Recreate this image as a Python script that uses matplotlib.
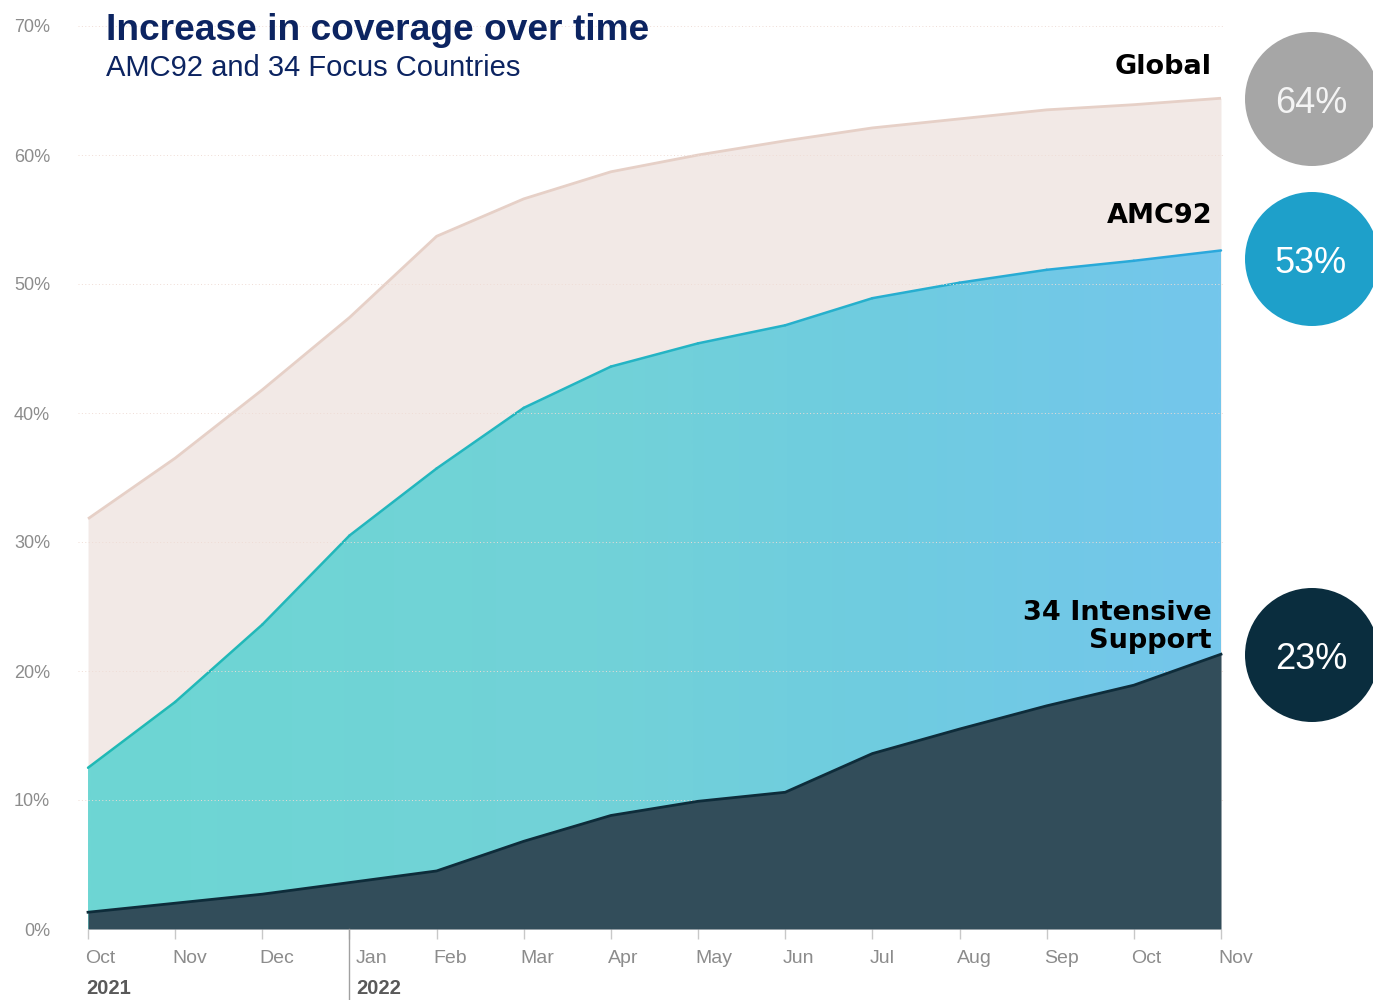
import numpy as np
import matplotlib
matplotlib.use("Agg")
import matplotlib.pyplot as plt
from matplotlib.colors import LinearSegmentedColormap
from matplotlib.collections import LineCollection
from matplotlib.patches import Circle
import matplotlib.transforms as mtransforms

# ---------------- data ----------------
months = ["Oct", "Nov", "Dec", "Jan", "Feb", "Mar", "Apr", "May", "Jun",
          "Jul", "Aug", "Sep", "Oct", "Nov"]
years = ["2021", "2022"]
year_start_idx = [0, 3]
global_cov = [31.8, 36.5, 41.8, 47.4, 53.7, 56.6, 58.7, 60.0, 61.1, 62.1, 62.8, 63.5, 63.9, 64.4]
amc92_cov = [12.5, 17.6, 23.6, 30.5, 35.7, 40.4, 43.6, 45.4, 46.8, 48.9, 50.1, 51.1, 51.8, 52.6]
intensive_cov = [1.3, 2.0, 2.7, 3.6, 4.5, 6.8, 8.8, 9.9, 10.6, 13.6, 15.5, 17.3, 18.9, 21.3]
series_names = ["Global", "AMC92", "34 Intensive\nSupport"]
end_labels = ["64%", "53%", "23%"]
y_ticks = [0, 10, 20, 30, 40, 50, 60, 70]
title = "Increase in coverage over time"
subtitle = "AMC92 and 34 Focus Countries"

# ---------------- figure ----------------
W, H = 1373, 1000
fig = plt.figure(figsize=(W / 100, H / 100), dpi=100)
ax = fig.add_axes([78 / W, 71 / H, 1147 / W, 903 / H])
x = np.arange(len(months))

navy = "#0C2461"
gray_txt = "#8C8C8C"

# Global
ax.fill_between(x, 0, global_cov, color="#F2E9E6", lw=0, zorder=1)
ax.plot(x, global_cov, color="#E6D0C7", lw=2.0, zorder=2, solid_capstyle="butt")

# AMC92 with horizontal gradient
poly = ax.fill_between(x, 0, amc92_cov, color="none", lw=0, zorder=2)
cmap = LinearSegmentedColormap.from_list(
    "g", [(0, "#6DD6D3"), (0.45, "#72D2D8"), (0.7, "#6FCCE0"), (1, "#74C6EC")])
grad = np.linspace(0, 1, 512).reshape(1, -1)
im = ax.imshow(grad, extent=[x[0], x[-1], 0, 70], aspect="auto", cmap=cmap,
               origin="lower", zorder=2, interpolation="bilinear")
im.set_clip_path(poly.get_paths()[0], transform=ax.transData)

lcmap = LinearSegmentedColormap.from_list("l", [(0, "#20B9B4"), (0.5, "#24B4C4"), (1, "#2BA7DE")])
pts = np.column_stack([x, amc92_cov]).reshape(-1, 1, 2)
segs = np.concatenate([pts[:-1], pts[1:]], axis=1)
mids = (x[:-1] + x[1:]) / 2 / x[-1]
lc = LineCollection(segs, colors=[lcmap(m) for m in mids], linewidths=1.8, zorder=3,
                    capstyle="round")
ax.add_collection(lc)

# grid lines
for yv in y_ticks[1:]:
    ax.axhline(yv, color="#EFDCD5", lw=0.7, ls=(0, (1, 2.5)), zorder=3.5)

# Intensive
ax.fill_between(x, 0, intensive_cov, color="#324D5A", lw=0, zorder=4)
ax.plot(x, intensive_cov, color="#0E2C3A", lw=2.0, zorder=5)

ax.set_xlim(-0.115, 13.046)
ax.set_ylim(0, 70)
for s in ax.spines.values():
    s.set_visible(False)

ax.set_yticks(y_ticks)
ax.set_yticklabels([f"{v}%" for v in y_ticks], fontsize=13, color=gray_txt,
                   family="Liberation Sans")
ax.tick_params(axis="y", length=0, pad=20)

ax.set_xticks(x)
ax.set_xticklabels(months, fontsize=14, color=gray_txt, family="Liberation Sans", ha="left")
ax.tick_params(axis="x", length=7.5, width=1, color="#C8C8C8", pad=7.5)
for i, lab in enumerate(ax.get_xticklabels()):
    dx = 6 if i == 3 else -3
    lab.set_transform(lab.get_transform() + mtransforms.ScaledTranslation(dx / 100, 0, fig.dpi_scale_trans))

# year labels + separator
for yr, idx in zip(years, year_start_idx):
    ax.annotate(yr, xy=(x[idx], 0), xycoords=("data", "axes fraction"),
                xytext=(-1.5 if idx == 0 else 5, -42.5), textcoords="offset points",
                ha="left", va="center", fontsize=14.5, fontweight="bold",
                color="#595959", family="Liberation Sans", annotation_clip=False)
trans = mtransforms.blended_transform_factory(ax.transData, ax.transAxes)
ax.plot([x[3], x[3]], [0, -71 / 903], transform=trans, color="#A0A0A0", lw=1,
        clip_on=False, zorder=6)

# overlay for circles and titles
ov = fig.add_axes([0, 0, 1, 1], zorder=10)
ov.set_xlim(0, W)
ov.set_ylim(H, 0)
ov.axis("off")
ov.patch.set_alpha(0)

ov.text(106, 40, title, fontsize=26.7, fontweight="bold", color=navy,
        family="Liberation Sans", ha="left", va="baseline")
ov.text(106, 76, subtitle, fontsize=21, color=navy, family="Liberation Sans",
        ha="left", va="baseline")

circle_colors = ["#A6A6A6", "#1EA0CA", "#0A2D3E"]
circle_text_colors = ["#F4F4F4", "#FFFFFF", "#FFFFFF"]
circle_y = [99, 259, 655]
label_y = [67, 216, 627]
for name, lab, cc, tc, cy, ly in zip(series_names, end_labels, circle_colors,
                                     circle_text_colors, circle_y, label_y):
    ov.add_patch(Circle((1312, cy), 67, color=cc, lw=0))
    ov.text(1311, cy + 14, lab, fontsize=26, color=tc, family="Liberation Sans",
            ha="center", va="baseline")
    ov.text(1212, ly, name, fontsize=19.5, fontweight="bold", color="black",
            family="DejaVu Sans", ha="right", va="center", multialignment="right",
            linespacing=1.05)

fig.savefig("out.png", dpi=100)
